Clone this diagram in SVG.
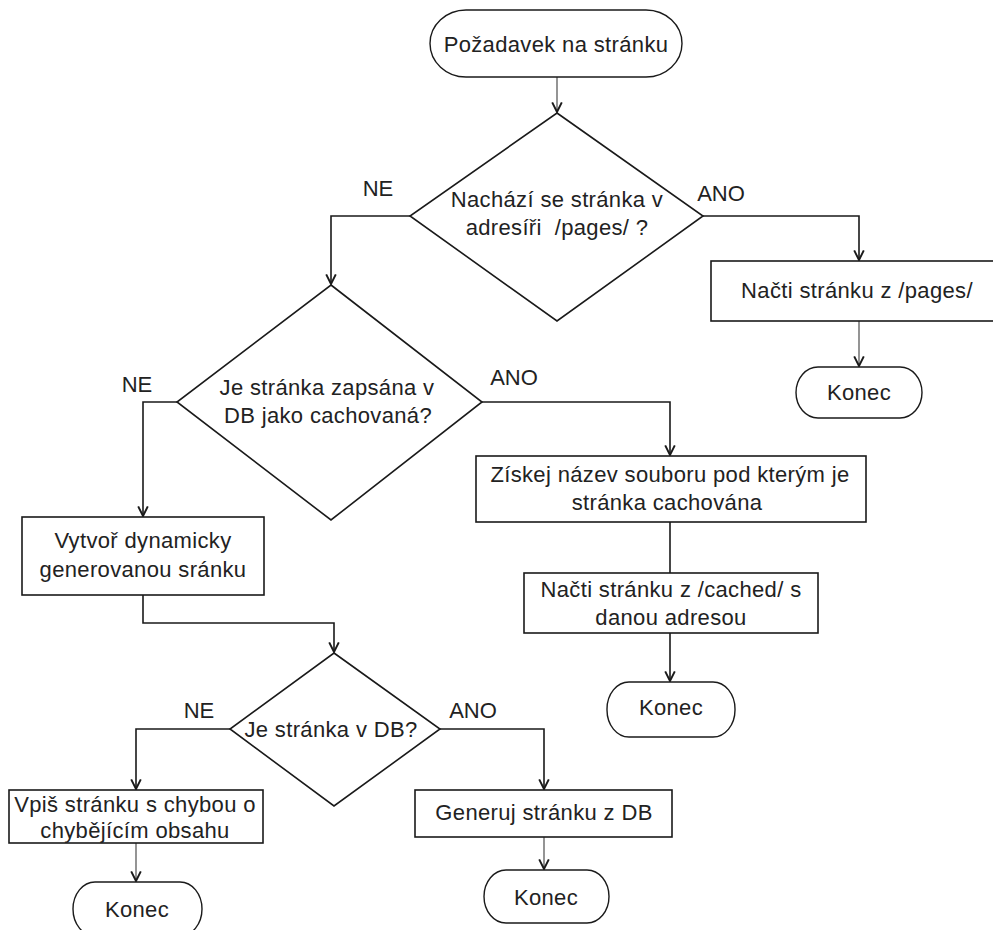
<svg xmlns="http://www.w3.org/2000/svg" width="993" height="930" viewBox="0 0 993 930">
<style>
  .shape { fill: #ffffff; stroke: #1a1a1a; stroke-width: 1.6; }
  .term { fill: #ffffff; stroke: #1a1a1a; stroke-width: 1.4; }
  .t { font-family: "Liberation Sans", Arial, sans-serif; font-size: 22px; fill: #222222; text-anchor: middle; letter-spacing: 0.35px; white-space: pre; }
  .lbl { font-family: "Liberation Sans", Arial, sans-serif; font-size: 22px; fill: #222222; text-anchor: middle; }
  .c { fill: none; stroke: #1a1a1a; stroke-width: 1.6; }
  .cg { fill: none; stroke: #7a7a7a; stroke-width: 1.6; }
</style>
<defs>
  <marker id="arr" markerUnits="userSpaceOnUse" markerWidth="12" markerHeight="12" viewBox="0 0 10 10" refX="9" refY="5" orient="auto">
    <path d="M1,1 L9,5 L1,9" fill="none" stroke="#1a1a1a" stroke-width="1.6"/>
  </marker>
</defs>
<rect width="993" height="930" fill="#ffffff"/>

<g id="connectors">
  <path class="cg" d="M557,77 L557,112" marker-end="url(#arr)"/>
  <path class="c" d="M410,216 L331,216 L331,284" marker-end="url(#arr)"/>
  <path class="c" d="M703,216 L859,216 L859,260" marker-end="url(#arr)"/>
  <path class="cg" d="M859,321 L859,366" marker-end="url(#arr)"/>
  <path class="c" d="M177,402 L143,402 L143,516" marker-end="url(#arr)"/>
  <path class="c" d="M482,402 L670,402 L670,455" marker-end="url(#arr)"/>
  <path class="c" d="M670,522 L670,573"/>
  <path class="c" d="M670,633 L670,681" marker-end="url(#arr)"/>
  <path class="c" d="M143,595 L143,623 L334,623 L334,652" marker-end="url(#arr)"/>
  <path class="c" d="M230,729 L136,729 L136,789" marker-end="url(#arr)"/>
  <path class="c" d="M440,729 L544,729 L544,789" marker-end="url(#arr)"/>
  <path class="cg" d="M136,843 L136,881" marker-end="url(#arr)"/>
  <path class="cg" d="M544,837 L544,869" marker-end="url(#arr)"/>
</g>

<g id="start">
  <rect class="term" x="430" y="10" width="252" height="67" rx="36" ry="33.5"/>
  <text class="t" x="556" y="52">Požadavek na stránku</text>
</g>

<g id="decision-pages">
  <polygon class="shape" points="557,113 703,216 557,321 410,216"/>
  <text class="t" x="557" y="207">Nachází se stránka v</text>
  <text class="t" x="557" y="235">adresíři  /pages/ ?</text>
</g>
<g id="label-ne-1"><text class="lbl" x="378" y="196">NE</text></g>
<g id="label-ano-1"><text class="lbl" x="721" y="201">ANO</text></g>

<g id="load-pages">
  <rect class="shape" x="711" y="261" width="292" height="60"/>
  <text class="t" x="857" y="298">Načti stránku z /pages/</text>
</g>

<g id="end-1">
  <rect class="term" x="796" y="367" width="126" height="51" rx="22" ry="25.5"/>
  <text class="t" x="859" y="400">Konec</text>
</g>

<g id="decision-cached">
  <polygon class="shape" points="331,285 482,402 331,520 177,402"/>
  <text class="t" x="327" y="395">Je stránka zapsána v</text>
  <text class="t" x="328" y="423">DB jako cachovaná?</text>
</g>
<g id="label-ne-2"><text class="lbl" x="137" y="392">NE</text></g>
<g id="label-ano-2"><text class="lbl" x="514" y="385">ANO</text></g>

<g id="get-filename">
  <rect class="shape" x="476" y="456" width="390" height="66"/>
  <text class="t" x="670" y="482">Získej název souboru pod kterým je</text>
  <text class="t" x="667" y="510">stránka cachována</text>
</g>

<g id="load-cached">
  <rect class="shape" x="524" y="573" width="294" height="60"/>
  <text class="t" x="671" y="597">Načti stránku z /cached/ s</text>
  <text class="t" x="671" y="625">danou adresou</text>
</g>

<g id="end-2">
  <rect class="term" x="607" y="682" width="128" height="55" rx="22" ry="27"/>
  <text class="t" x="671" y="715">Konec</text>
</g>

<g id="create-dynamic">
  <rect class="shape" x="22" y="517" width="242" height="78"/>
  <text class="t" x="143" y="548">Vytvoř dynamicky</text>
  <text class="t" x="143" y="577">generovanou sránku</text>
</g>

<g id="decision-db">
  <polygon class="shape" points="334,653 440,729 334,806 230,729"/>
  <text class="t" x="331" y="737">Je stránka v DB?</text>
</g>
<g id="label-ne-3"><text class="lbl" x="199" y="718">NE</text></g>
<g id="label-ano-3"><text class="lbl" x="473" y="718">ANO</text></g>

<g id="write-error">
  <rect class="shape" x="9" y="790" width="254" height="53"/>
  <text class="t" x="135" y="812">Vpiš stránku s chybou o</text>
  <text class="t" x="135" y="838">chybějícím obsahu</text>
</g>

<g id="generate-db">
  <rect class="shape" x="415" y="790" width="257" height="47"/>
  <text class="t" x="544" y="820">Generuj stránku z DB</text>
</g>

<g id="end-3">
  <rect class="term" x="73" y="882" width="129" height="54" rx="22" ry="27"/>
  <text class="t" x="137" y="917">Konec</text>
</g>

<g id="end-4">
  <rect class="term" x="484" y="870" width="125" height="53" rx="22" ry="26.5"/>
  <text class="t" x="546" y="905">Konec</text>
</g>
</svg>
